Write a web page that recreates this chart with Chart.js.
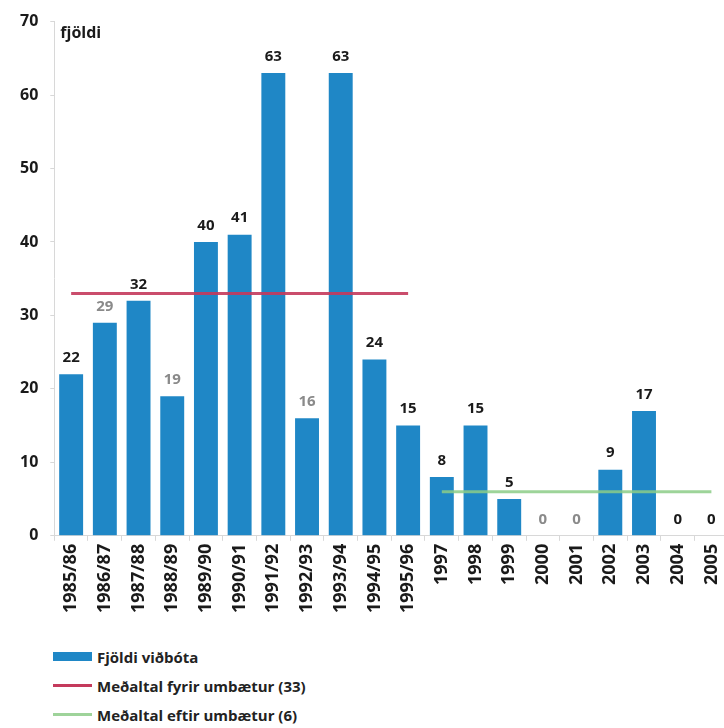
<!DOCTYPE html>
<html>
<head>
<meta charset="utf-8">
<script src="https://cdn.jsdelivr.net/npm/chart.js@4/dist/chart.umd.min.js"></script>
<style>
  body { margin: 0; background: #fff; font-family: "Open Sans", sans-serif; overflow: hidden; }
  #wrap { position: relative; width: 724px; height: 728px; overflow: hidden; }
  #box { position: absolute; left: 0; top: 0; width: 736px; height: 616px; }
  #legend { position: absolute; left: 53px; top: 642px; font-size: 15px; font-weight: bold; color: #222; }
  .row { display: flex; align-items: center; height: 29px; }
  .sw { width: 39px; margin-right: 5px; }
</style>
</head>
<body>
<div id="wrap">
  <div id="box"><canvas id="chart"></canvas></div>
  <div id="legend"></div>
</div>
<script>
// categories and values
const years = [
  "1985/86", "1986/87", "1987/88", "1988/89", "1989/90", "1990/91", "1991/92",
  "1992/93", "1993/94", "1994/95", "1995/96", "1997", "1998", "1999",
  "2000", "2001", "2002", "2003", "2004", "2005"
];
const additions = [22, 29, 32, 19, 40, 41, 63, 16, 63, 24, 15, 8, 15, 5, 0, 0, 9, 17, 0, 0];
const avgBefore = [33, 33, 33, 33, 33, 33, 33, 33, 33, 33, 33, null, null, null, null, null, null, null, null, null];
const avgAfter = [null, null, null, null, null, null, null, null, null, null, null, 6, 6, 6, 6, 6, 6, 6, 6, 6];
// some of the value labels are printed grey in the original
const labelGrey = [false, true, false, true, false, false, false, true, false, false, false, false, false, false, true, true, false, false, false, false];
const yTicks = [0, 10, 20, 30, 40, 50, 60, 70];

const legendItems = [
  { text: "Fjöldi viðbóta", color: "#1f87c6", h: 9 },
  { text: "Meðaltal fyrir umbætur (33)", color: "#c43a5c", h: 3 },
  { text: "Meðaltal eftir umbætur (6)", color: "#9ed39a", h: 3 }
];

// value labels above bars + the "fjöldi" title in the corner
const labelPlugin = {
  id: "valueLabels",
  afterDatasetsDraw(chart) {
    const ctx = chart.ctx;
    const meta = chart.getDatasetMeta(2); // the bar dataset
    ctx.save();
    ctx.font = "bold 15px 'Open Sans', sans-serif";
    ctx.textAlign = "center";
    ctx.textBaseline = "bottom";
    meta.data.forEach((bar, i) => {
      ctx.fillStyle = labelGrey[i] ? "#8a8a8a" : "#1a1a1a";
      ctx.fillText(additions[i], bar.x, bar.y - 9);
    });
    ctx.textAlign = "left";
    ctx.textBaseline = "middle";
    ctx.fillStyle = "#1a1a1a";
    ctx.font = "bold 16px 'Open Sans', sans-serif";
    ctx.fillText("fjöldi", chart.chartArea.left + 6, chart.chartArea.top + 12);
    ctx.restore();
  }
};

new Chart(document.getElementById("chart"), {
  data: {
    labels: years,
    datasets: [
      {
        type: "line",
        data: avgBefore,
        borderColor: "rgba(196, 58, 92, 0.9)",
        borderWidth: 3,
        pointRadius: 0,
        spanGaps: false,
        order: 0
      },
      {
        type: "line",
        data: avgAfter,
        borderColor: "rgba(140, 205, 135, 0.85)",
        borderWidth: 3,
        pointRadius: 0,
        spanGaps: false,
        order: 0
      },
      {
        type: "bar",
        data: additions,
        backgroundColor: "#1f87c6",
        categoryPercentage: 1,
        barPercentage: 0.71,
        order: 1
      }
    ]
  },
  options: {
    responsive: true,
    maintainAspectRatio: false,
    animation: false,
    layout: { padding: { top: 0, right: 0, left: 8 } },
    plugins: { legend: { display: false }, tooltip: { enabled: false } },
    scales: {
      x: {
        grid: { drawOnChartArea: false, tickLength: 5, color: "#d8d8d8" },
        border: { color: "#d8d8d8" },
        ticks: {
          minRotation: 90, maxRotation: 90, autoSkip: false,
          color: "#1a1a1a",
          font: { family: "'Open Sans', sans-serif", size: 18, weight: "bold" }
        }
      },
      y: {
        min: 0, max: 70,
        afterBuildTicks: (axis) => { axis.ticks = yTicks.map(v => ({ value: v })); },
        grid: { drawOnChartArea: false, tickLength: 4, color: "#d8d8d8" },
        border: { color: "#d8d8d8" },
        ticks: {
          padding: 12,
          color: "#1a1a1a",
          font: { family: "'Open Sans', sans-serif", size: 16, weight: "bold" }
        }
      }
    }
  },
  plugins: [labelPlugin]
});

// vertical legend under the chart
const legend = document.getElementById("legend");
legendItems.forEach(item => {
  const row = document.createElement("div");
  row.className = "row";
  const sw = document.createElement("div");
  sw.className = "sw";
  sw.style.height = item.h + "px";
  sw.style.background = item.color;
  const txt = document.createElement("span");
  txt.textContent = item.text;
  row.appendChild(sw);
  row.appendChild(txt);
  legend.appendChild(row);
});
</script>
</body>
</html>
